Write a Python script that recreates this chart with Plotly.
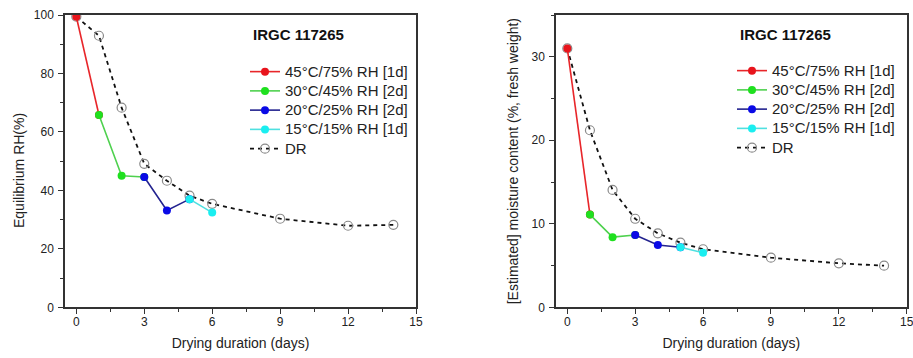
import plotly.graph_objects as go

# ---- data ----
days_red = [0, 1]
days_green = [1, 2, 3]
days_blue = [3, 4, 5]
days_cyan = [5, 6]
days_dr = [0, 1, 2, 3, 4, 5, 6, 9, 12, 14]

erh_red = [99.4, 65.8]
erh_green = [65.8, 45.0, 44.6]
erh_blue = [44.6, 33.1, 37.0]
erh_cyan = [37.0, 32.4]
erh_dr = [99.4, 92.9, 68.3, 49.1, 43.3, 38.2, 35.4, 30.3, 27.9, 28.2]

mc_red = [31.0, 11.1]
mc_green = [11.1, 8.4, 8.66]
mc_blue = [8.66, 7.46, 7.19]
mc_cyan = [7.19, 6.54]
mc_dr = [31.0, 21.2, 14.05, 10.6, 8.86, 7.74, 6.95, 5.94, 5.27, 4.98]

names = ["45°C/75% RH [1d]", "30°C/45% RH [2d]", "20°C/25% RH [2d]", "15°C/15% RH [1d]"]
line_colors = ["#e8262a", "#4fd14f", "#23238f", "#4fe0e0"]
marker_colors = ["#e8141c", "#1fe01f", "#0a0ae6", "#1aeef0"]
panel_title = "IRGC 117265"
left_ytitle = "Equilibrium RH(%)"
right_ytitle = "[Estimated] moisture content (%, fresh weight)"
x_title = "Drying duration (days)"
x_ticks = [0, 3, 6, 9, 12, 15]

FONT = "Liberation Sans, Arial, sans-serif"
W, H = 913, 358

def big(s):
    return '<span style="font-size:15px">' + s + '</span>'

fig = go.Figure()

def add_panel(xa, ya, legend, xs_list, ys_list, xdr, ydr):
    fig.add_trace(go.Scatter(
        x=xdr, y=ydr, mode="lines+markers", name=big("DR"),
        line=dict(color="#111111", width=1.8, dash="4px,4px"),
        marker=dict(symbol="circle-open", size=9, color="#8a8a8a", line=dict(width=1.2)),
        xaxis=xa, yaxis=ya, legend=legend, legendrank=1005))
    for i, (xs, ys) in enumerate(zip(xs_list, ys_list)):
        fig.add_trace(go.Scatter(
            x=xs, y=ys, mode="lines+markers", name=big(names[i]),
            line=dict(color=line_colors[i], width=1.6),
            marker=dict(color=marker_colors[i], size=8),
            xaxis=xa, yaxis=ya, legend=legend, legendrank=1000 + i))

add_panel("x", "y", "legend",
          [days_red, days_green, days_blue, days_cyan],
          [erh_red, erh_green, erh_blue, erh_cyan], days_dr, erh_dr)
add_panel("x2", "y2", "legend2",
          [days_red, days_green, days_blue, days_cyan],
          [mc_red, mc_green, mc_blue, mc_cyan], days_dr, mc_dr)

ybot = (H - 307.3) / H
ytop = (H - 15) / H

def xaxis_cfg(domain, anchor):
    return dict(domain=domain, anchor=anchor, range=[-0.5, 15], tickvals=x_ticks,
                showline=True, linecolor="#333333", linewidth=1.5, mirror=True,
                ticks="outside", ticklen=5, tickwidth=1.2, tickcolor="#333333",
                minor=dict(dtick=1.5, tick0=0, ticks="outside", ticklen=3, tickcolor="#333333"),
                showgrid=False, zeroline=False, automargin=False, ticklabeloverflow="allow",
                ticklabelstandoff=-2,
                tickfont=dict(family=FONT, size=12, color="#222222"),
                title=dict(text=x_title, font=dict(family=FONT, size=14, color="#222222"), standoff=10))

def yaxis_cfg(domain, anchor, rng, dtick, title):
    return dict(domain=domain, anchor=anchor, range=rng, dtick=dtick, tick0=0,
                showline=True, linecolor="#333333", linewidth=1.5, mirror=True,
                ticks="outside", ticklen=5, tickwidth=1.2, tickcolor="#333333",
                minor=dict(dtick=dtick / 2, tick0=0, ticks="outside", ticklen=3, tickcolor="#333333"),
                showgrid=False, zeroline=False, automargin=False,
                ticklabelstandoff=2,
                tickfont=dict(family=FONT, size=12, color="#222222"),
                title=dict(text=title, font=dict(family=FONT, size=14, color="#222222"), standoff=10))

leg_common = dict(xanchor="left", yanchor="top", bgcolor="rgba(0,0,0,0)",
                  font=dict(family=FONT, size=12.5, color="#222222"),
                  itemwidth=30, tracegroupgap=0)

fig.update_layout(
    width=W, height=H, margin=dict(l=0, r=0, t=0, b=0),
    paper_bgcolor="white", plot_bgcolor="white",
    xaxis=xaxis_cfg([65 / W, 416 / W], "y"),
    yaxis=yaxis_cfg([ybot, ytop], "x", [0, 100], 20, ""),
    xaxis2=xaxis_cfg([556 / W, 906.7 / W], "y2"),
    yaxis2=yaxis_cfg([ybot, ytop], "x2", [0, 35], 10, right_ytitle),
    legend=dict(x=245 / W, y=1 - 57 / H, **leg_common),
    legend2=dict(x=732 / W, y=1 - 56 / H, **leg_common),
    showlegend=True,
)

# left y-axis title (sits slightly below the plot centre in the original)
fig.add_annotation(text=left_ytitle, xref="paper", yref="paper", textangle=-90,
                   x=19 / W, y=1 - 171 / H, xanchor="center", yanchor="middle",
                   showarrow=False, font=dict(family=FONT, size=14, color="#222222"))

for x0 in (250.7, 738):
    fig.add_annotation(text="<b>" + panel_title + "</b>", xref="paper", yref="paper",
                       x=x0 / W, y=1 - 35 / H, xanchor="left", yanchor="middle",
                       showarrow=False, font=dict(family=FONT, size=15, color="#111111"))

fig.write_html("out.html")
